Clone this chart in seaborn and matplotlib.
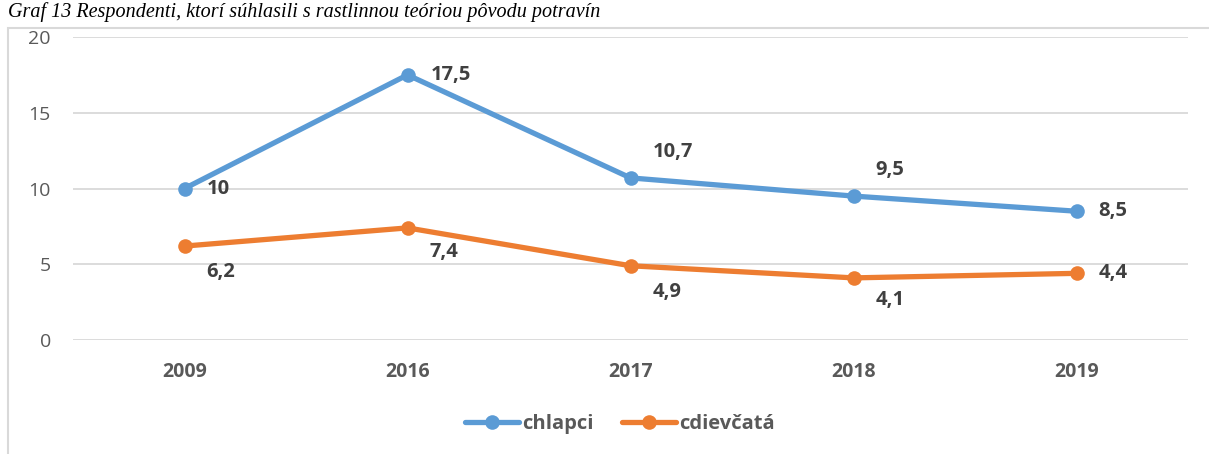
import numpy as np
import pandas as pd
import seaborn as sns
import matplotlib.pyplot as plt
from matplotlib.patches import Rectangle
from matplotlib.lines import Line2D

# data
years = ['2009', '2016', '2017', '2018', '2019']
chlapci = [10, 17.5, 10.7, 9.5, 8.5]
dievcata = [6.2, 7.4, 4.9, 4.1, 4.4]
series_names = ['chlapci', 'cdievčatá']
colors = ['#5B9BD5', '#ED7D31']

# label offsets (points) for each data label
off_chlapci = [(16, 0), (17, 0), (16, 19), (16, 19), (16, 0)]
off_dievcata = [(16, -19), (16, -17), (16, -19), (16, -16), (16, 0)]

df = pd.DataFrame({'rok': years * 2,
                   'hodnota': chlapci + dievcata,
                   'skupina': [series_names[0]] * 5 + [series_names[1]] * 5})

sns.set_style("white")
plt.rcParams['font.family'] = ['Open Sans', 'DejaVu Sans']

fig = plt.figure(figsize=(12.09, 4.54), dpi=100)
ax = fig.add_axes([73 / 1209, 1 - 340 / 454, (1188 - 73) / 1209, (340 - 37) / 454])

sns.lineplot(data=df, x='rok', y='hodnota', hue='skupina', palette=colors,
             marker='o', markersize=10.5, markeredgewidth=0, linewidth=3.8,
             sort=False, legend=False, ax=ax)

ax.set_ylim(0, 20)
ax.set_xlim(-0.5, 4.5)
ax.set_yticks([0, 5, 10, 15, 20])
ax.yaxis.grid(True, color='#D9D9D9', linewidth=1.3)
ax.set_axisbelow(True)
for s in ax.spines.values():
    s.set_visible(False)
ax.tick_params(axis='both', length=0, colors='#595959')
ax.tick_params(axis='y', labelsize=14, pad=16)
ax.tick_params(axis='x', labelsize=14, pad=16)
for t in ax.get_xticklabels():
    t.set_fontweight('bold')
ax.set_xlabel('')
ax.set_ylabel('')

# data labels
for vals, offs in [(chlapci, off_chlapci), (dievcata, off_dievcata)]:
    for i, (v, o) in enumerate(zip(vals, offs)):
        txt = ('%g' % v).replace('.', ',')
        ax.annotate(txt, (i, v), xytext=o, textcoords='offset points',
                    ha='left', va='center', fontsize=14.5, fontweight='bold',
                    color='#404040')

# legend
handles = [Line2D([], [], color=c, linewidth=3.8, marker='o', markersize=10.5,
                  markeredgewidth=0) for c in colors]
fig.legend(handles, series_names, loc='center', bbox_to_anchor=(620 / 1209, 1 - 424 / 454),
           ncol=2, frameon=False, handlelength=2.7, handletextpad=0.15, columnspacing=1.4,
           prop={'weight': 'bold', 'size': 14.5}, labelcolor='#595959')

# chart frame
fig.patches.append(Rectangle((8 / 1209, -0.2), 1.5, 1 - 28 / 454 + 0.2,
                             transform=fig.transFigure, fill=False,
                             edgecolor='#D9D9D9', linewidth=1.5))

# caption above the chart
fig.text(8 / 1209, 1 - 2 / 454,
         'Graf 13 Respondenti, ktorí súhlasili s rastlinnou teóriou pôvodu potravín',
         ha='left', va='top', fontsize=14.5, style='italic', family='Liberation Serif',
         color='black')

fig.savefig('out.png', dpi=100)
